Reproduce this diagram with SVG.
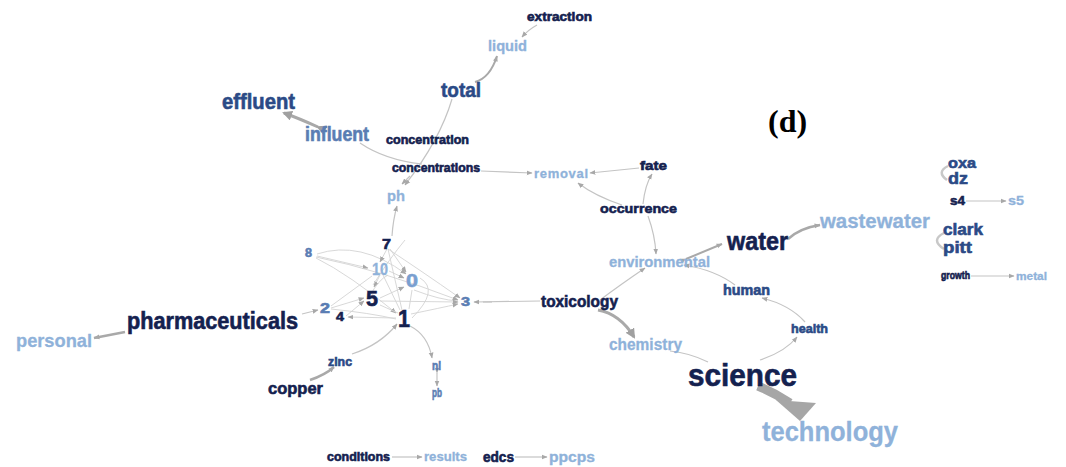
<svg xmlns="http://www.w3.org/2000/svg" width="1066" height="467" viewBox="0 0 1066 467">
<style>
.t{font-family:"Liberation Sans",Arial,sans-serif;font-weight:bold;stroke-width:0.6}
.dk{fill:#14214f;stroke:#14214f}
.md{fill:#2b4a86;stroke:#2b4a86}
.mb{fill:#5a7db3;stroke:#5a7db3}
.lt{fill:#8fb2da;stroke:#8fb2da;stroke-width:0.3}
.e{fill:none;stroke:#c4c4c4;stroke-width:1.2}
.ec{fill:none;stroke:#d4d4d4;stroke-width:0.9}
.ek{fill:none;stroke:#a9a9a9;stroke-width:3}
.lbl{font-family:"Liberation Serif","Times New Roman",serif;font-weight:bold;fill:#000}
</style>
<defs>
<marker id="a" viewBox="0 0 10 10" refX="9" refY="5" markerWidth="6" markerHeight="6" orient="auto" markerUnits="userSpaceOnUse">
<path d="M0,1 L10,5 L0,9 z" fill="#a8a8a8"/>
</marker>
<marker id="ak" viewBox="0 0 10 10" refX="8" refY="5" markerWidth="10" markerHeight="10" orient="auto" markerUnits="userSpaceOnUse">
<path d="M0,0 L10,5 L0,10 z" fill="#a0a0a0"/>
</marker>
</defs>
<rect width="1066" height="467" fill="#fff"/>

<g id="connectors">
<path class="e" d="M537,25 Q528,30 522,37" marker-end="url(#a)"/>
<path class="ek" style="stroke-width:2" d="M475,82 Q490,78 497,56" marker-end="url(#a)"/>
<path class="e" d="M452,99 Q440,140 405,185" marker-end="url(#a)"/>
<path class="ek" d="M318,127 Q298,118 284,113" marker-end="url(#ak)" marker-start="url(#ak)"/>
<path class="e" d="M360,143 Q385,160 422,164"/>
<path class="e" d="M410,176 L402,184" marker-end="url(#a)"/>
<path class="e" d="M481,171 L532,173" marker-end="url(#a)"/>
<path class="e" d="M639,168 L590,173" marker-end="url(#a)"/>
<path class="e" d="M622,205 Q595,196 578,183" marker-end="url(#a)"/>
<path class="e" d="M643,204 Q645,185 652,174" marker-end="url(#a)"/>
<path class="e" d="M648,216 Q655,235 656,254" marker-end="url(#a)"/>
<path class="e" d="M392,236 Q393,220 397,206" marker-end="url(#a)"/>
<path class="e" d="M600,300 Q620,285 645,268" marker-end="url(#a)"/>
<path class="ek" style="stroke-width:2" d="M686,259 L722,244" marker-end="url(#a)" marker-start="url(#a)"/>
<path class="ek" style="stroke-width:2.5" d="M788,239 Q800,228 820,225" marker-end="url(#a)"/>
<path class="e" d="M735,285 Q715,270 684,265" marker-end="url(#a)"/>
<path class="e" d="M805,322 Q790,305 762,298" marker-end="url(#a)"/>
<path class="e" d="M760,360 Q785,352 797,337" marker-end="url(#a)"/>
<path class="e" d="M708,362 Q690,353 670,351"/>
<path class="ek" d="M598,310 Q620,314 634,337" marker-end="url(#ak)"/>
<path fill="none" stroke="#a6a6a6" stroke-width="9" d="M758,386 Q775,393 790,403"/>
<polygon points="776,400 816,403 800,421" fill="#a6a6a6"/>
<path class="e" d="M540,301 L474,302" marker-end="url(#a)"/>
<path class="e" d="M483,302 L492,302"/>
<path class="ec" d="M317,254 Q360,240 406,274" marker-end="url(#a)"/>
<path class="ec" d="M317,256 L368,268" marker-end="url(#a)"/>
<path class="ec" d="M316,258 Q350,275 396,313" marker-end="url(#a)"/>
<path class="ec" d="M316,257 Q380,270 458,300" marker-end="url(#a)"/>
<path class="ec" d="M387,249 L380,262" marker-end="url(#a)"/>
<path class="ec" d="M390,249 L406,272" marker-end="url(#a)"/>
<path class="ec" d="M388,249 Q395,280 402,310"/>
<path class="ec" d="M388,249 Q420,270 460,298" marker-end="url(#a)"/>
<path class="ec" d="M389,271 L404,278" marker-end="url(#a)"/>
<path class="ec" d="M380,275 L374,287" marker-end="url(#a)"/>
<path class="ec" d="M383,275 L400,310"/>
<path class="ec" d="M412,290 L409,309"/>
<path class="ec" d="M414,290 Q440,300 458,301"/>
<path class="ec" d="M370,296 Q378,280 388,275"/>
<path class="ec" d="M380,298 L404,287" marker-end="url(#a)"/>
<path class="ec" d="M380,301 L458,302" marker-end="url(#a)"/>
<path class="ec" d="M331,308 L364,298" marker-end="url(#a)"/>
<path class="ec" d="M331,306 L372,276"/>
<path class="ec" d="M331,309 Q370,313 396,319"/>
<path class="ec" d="M346,316 L364,301" marker-end="url(#a)"/>
<path class="ec" d="M396,318 L348,317" marker-end="url(#a)"/>
<path class="ec" d="M398,313 L380,305"/>
<path class="ec" d="M411,314 Q440,308 458,304" marker-end="url(#a)"/>
<path class="ec" d="M412,318 Q440,290 420,278"/>
<path class="ec" d="M373,285 Q390,258 405,240"/>
<path class="e" d="M302,314 L318,310" marker-end="url(#a)"/>
<path class="e" d="M410,326 Q428,335 432,358" marker-end="url(#a)"/>
<path class="e" d="M437,373 L437,386" marker-end="url(#a)" marker-start="url(#a)"/>
<path class="e" d="M352,354 Q380,345 397,324" marker-end="url(#a)"/>
<path class="ek" style="stroke-width:2.5" d="M310,380 Q325,375 334,367" marker-end="url(#a)"/>
<path class="ek" style="stroke-width:2.5" d="M125,332 L94,338" marker-end="url(#a)"/>
<path class="e" d="M966,201 L1006,201" marker-end="url(#a)"/>
<path class="e" d="M971,276 L1014,276" marker-end="url(#a)"/>
<path fill="none" stroke="#c8c8c8" stroke-width="2.5" d="M948,166 Q936,172 947,180"/>
<path fill="none" stroke="#c8c8c8" stroke-width="2.5" d="M944,233 Q930,240 944,249"/>
<path class="e" d="M392,457 L422,457" marker-end="url(#a)"/>
<path class="e" d="M515,457 L547,457" marker-end="url(#a)"/>
</g>

<g id="n-extraction"><text class="t dk" x="527" y="21" font-size="12" textLength="65" lengthAdjust="spacingAndGlyphs">extraction</text></g>
<g id="n-liquid"><text class="t lt" x="488" y="51" font-size="14" textLength="39" lengthAdjust="spacingAndGlyphs">liquid</text></g>
<g id="n-total"><text class="t md" x="441" y="97" font-size="21" textLength="40" lengthAdjust="spacingAndGlyphs">total</text></g>
<g id="n-effluent"><text class="t md" x="222" y="109" font-size="22" textLength="73" lengthAdjust="spacingAndGlyphs">effluent</text></g>
<g id="n-influent"><text class="t mb" x="305" y="141" font-size="20" textLength="64" lengthAdjust="spacingAndGlyphs">influent</text></g>
<g id="n-concentration"><text class="t dk" x="386" y="144" font-size="12" textLength="83" lengthAdjust="spacingAndGlyphs">concentration</text></g>
<g id="n-concentrations"><text class="t dk" x="392" y="172" font-size="12" textLength="88" lengthAdjust="spacingAndGlyphs">concentrations</text></g>
<g id="n-removal"><text class="t lt" x="534" y="178" font-size="13" textLength="54" lengthAdjust="spacing">removal</text></g>
<g id="n-fate"><text class="t dk" x="640" y="170" font-size="12" textLength="27" lengthAdjust="spacingAndGlyphs">fate</text></g>
<g id="n-occurrence"><text class="t dk" x="600" y="213" font-size="13" textLength="77" lengthAdjust="spacingAndGlyphs">occurrence</text></g>
<g id="n-ph"><text class="t lt" x="387" y="201" font-size="15" textLength="18" lengthAdjust="spacingAndGlyphs">ph</text></g>
<g id="n-environmental"><text class="t lt" x="609" y="267" font-size="15" textLength="101" lengthAdjust="spacingAndGlyphs">environmental</text></g>
<g id="n-water"><text class="t dk" x="727" y="250" font-size="25" textLength="61" lengthAdjust="spacingAndGlyphs">water</text></g>
<g id="n-wastewater"><text class="t lt" x="820" y="228" font-size="20" textLength="110" lengthAdjust="spacingAndGlyphs">wastewater</text></g>
<g id="n-oxa"><text class="t md" x="948" y="168" font-size="15" textLength="28" lengthAdjust="spacingAndGlyphs">oxa</text></g>
<g id="n-dz"><text class="t md" x="948" y="184" font-size="17" textLength="20" lengthAdjust="spacingAndGlyphs">dz</text></g>
<g id="n-s4"><text class="t dk" x="950" y="205" font-size="13" textLength="15" lengthAdjust="spacingAndGlyphs">s4</text></g>
<g id="n-s5"><text class="t lt" x="1008" y="205" font-size="13" textLength="16" lengthAdjust="spacingAndGlyphs">s5</text></g>
<g id="n-clark"><text class="t md" x="943" y="235" font-size="16" textLength="40" lengthAdjust="spacingAndGlyphs">clark</text></g>
<g id="n-pitt"><text class="t md" x="943" y="253" font-size="16" textLength="29" lengthAdjust="spacingAndGlyphs">pitt</text></g>
<g id="n-growth"><text class="t dk" x="941" y="279" font-size="10" textLength="29" lengthAdjust="spacingAndGlyphs">growth</text></g>
<g id="n-metal"><text class="t lt" x="1016" y="280" font-size="11" textLength="31" lengthAdjust="spacingAndGlyphs">metal</text></g>
<g id="n-human"><text class="t md" x="723" y="295" font-size="14" textLength="47" lengthAdjust="spacingAndGlyphs">human</text></g>
<g id="n-health"><text class="t md" x="791" y="333" font-size="12" textLength="37" lengthAdjust="spacingAndGlyphs">health</text></g>
<g id="n-toxicology"><text class="t dk" x="541" y="307" font-size="16" textLength="77" lengthAdjust="spacingAndGlyphs">toxicology</text></g>
<g id="n-chemistry"><text class="t lt" x="609" y="350" font-size="16" textLength="73" lengthAdjust="spacingAndGlyphs">chemistry</text></g>
<g id="n-science"><text class="t dk" x="688" y="386" font-size="31" textLength="109" lengthAdjust="spacingAndGlyphs">science</text></g>
<g id="n-technology"><text class="t lt" x="762" y="441" font-size="28" textLength="136" lengthAdjust="spacingAndGlyphs">technology</text></g>
<g id="n-pharmaceuticals"><text class="t dk" x="127" y="329" font-size="23" textLength="171" lengthAdjust="spacingAndGlyphs">pharmaceuticals</text></g>
<g id="n-personal"><text class="t lt" x="16" y="347" font-size="19" textLength="76" lengthAdjust="spacingAndGlyphs">personal</text></g>
<g id="n-copper"><text class="t dk" x="268" y="394" font-size="17" textLength="55" lengthAdjust="spacingAndGlyphs">copper</text></g>
<g id="n-zinc"><text class="t md" x="328" y="366" font-size="12" textLength="24" lengthAdjust="spacingAndGlyphs">zinc</text></g>
<g id="n-ni"><text class="t mb" x="432" y="370" font-size="12" textLength="9" lengthAdjust="spacingAndGlyphs">ni</text></g>
<g id="n-pb"><text class="t mb" x="432" y="397" font-size="12" textLength="10" lengthAdjust="spacingAndGlyphs">pb</text></g>
<g id="n-1"><text class="t dk" x="398" y="327" font-size="24" textLength="12" lengthAdjust="spacingAndGlyphs">1</text></g>
<g id="n-5"><text class="t dk" x="366" y="306" font-size="22" textLength="12" lengthAdjust="spacingAndGlyphs">5</text></g>
<g id="n-0"><text class="t" style="fill:#7a9fd0;stroke:#7a9fd0" x="406" y="287" font-size="18" textLength="12" lengthAdjust="spacingAndGlyphs">0</text></g>
<g id="n-10"><text class="t lt" x="372" y="275" font-size="16" textLength="16" lengthAdjust="spacingAndGlyphs">10</text></g>
<g id="n-7"><text class="t dk" x="382" y="249" font-size="15" textLength="9" lengthAdjust="spacingAndGlyphs">7</text></g>
<g id="n-8"><text class="t mb" x="305" y="257" font-size="12" textLength="7" lengthAdjust="spacingAndGlyphs">8</text></g>
<g id="n-2"><text class="t mb" x="320" y="313" font-size="15" textLength="10" lengthAdjust="spacingAndGlyphs">2</text></g>
<g id="n-4"><text class="t dk" x="336" y="321" font-size="13" textLength="8" lengthAdjust="spacingAndGlyphs">4</text></g>
<g id="n-3"><text class="t mb" x="461" y="306" font-size="13" textLength="9" lengthAdjust="spacingAndGlyphs">3</text></g>
<g id="n-conditions"><text class="t dk" x="327" y="461" font-size="12" textLength="63" lengthAdjust="spacingAndGlyphs">conditions</text></g>
<g id="n-results"><text class="t lt" x="424" y="461" font-size="12" textLength="43" lengthAdjust="spacingAndGlyphs">results</text></g>
<g id="n-edcs"><text class="t dk" x="483" y="462" font-size="14" textLength="31" lengthAdjust="spacingAndGlyphs">edcs</text></g>
<g id="n-ppcps"><text class="t lt" x="549" y="462" font-size="14" textLength="46" lengthAdjust="spacingAndGlyphs">ppcps</text></g>
<g id="label-d"><text class="lbl" x="768" y="132" font-size="32">(d)</text></g>
</svg>
